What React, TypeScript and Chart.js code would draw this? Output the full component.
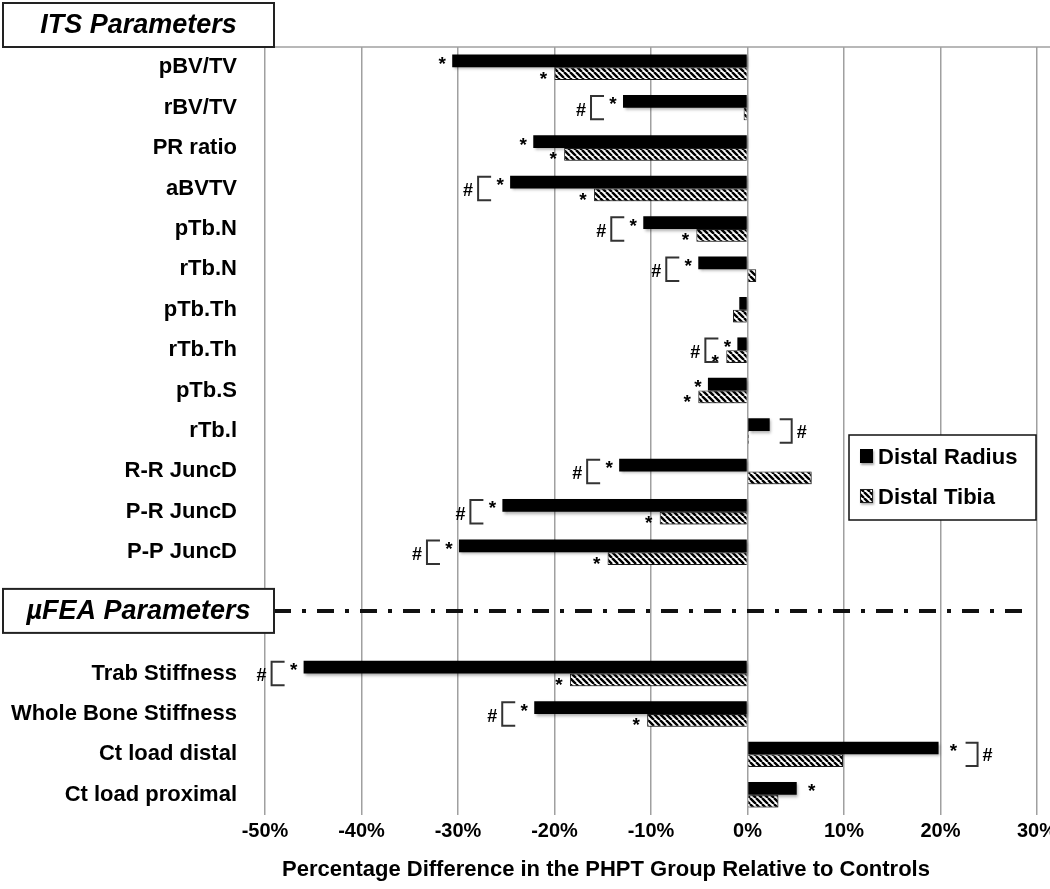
import React, { useEffect, useRef } from "react";
import { Chart, registerables } from "chart.js";
Chart.register(...registerables);

const categories = [
  "pBV/TV", "rBV/TV", "PR ratio", "aBVTV", "pTb.N", "rTb.N", "pTb.Th", "rTb.Th", "pTb.S", "rTb.l",
  "R-R JuncD", "P-R JuncD", "P-P JuncD", "", "",
  "Trab Stiffness", "Whole Bone Stiffness", "Ct load distal", "Ct load proximal",
];
const distalRadius = [-30.6, -12.9, -22.2, -24.6, -10.8, -5.1, -0.85, -1.05, -4.1, 2.3, -13.3, -25.4, -29.9, null, null, -46.0, -22.1, 19.8, 5.1];
const distalTibia = [-20.0, -0.4, -19.0, -15.9, -5.3, 0.9, -1.5, -2.2, -5.1, 0.15, 6.65, -9.1, -14.5, null, null, -18.4, -10.4, 9.9, 3.2];
const radiusStar = [1, 1, 1, 1, 1, 1, 0, 1, 1, 0, 1, 1, 1, 0, 0, 1, 1, 1, 1];
const tibiaStar = [1, 0, 1, 1, 1, 0, 0, 1, 1, 0, 0, 1, 1, 0, 0, 1, 1, 0, 0];
const bracketSide = ["", "L", "", "L", "L", "L", "", "L", "", "R", "L", "L", "L", "", "", "L", "L", "R", ""];
const seriesNames = ["Distal Radius", "Distal Tibia"];
const sectionTitles = ["ITS Parameters", "\u00B5FEA Parameters"];
const xMin = -50;
const xMax = 30;
const xStep = 10;
const xTitle = "Percentage Difference in the PHPT Group Relative to Controls";

const FONT = "'Liberation Sans', Arial, sans-serif";

function makeHatch(): CanvasPattern | string {
  const s = 6;
  const c = document.createElement("canvas");
  c.width = s;
  c.height = s;
  const g = c.getContext("2d");
  if (!g) return "#888";
  g.fillStyle = "#fff";
  g.fillRect(0, 0, s, s);
  g.strokeStyle = "#000";
  g.lineWidth = 2.4;
  g.beginPath();
  for (const k of [-s, 0, s]) {
    g.moveTo(k, 0);
    g.lineTo(k + s, s);
  }
  g.stroke();
  return g.createPattern(c, "repeat") ?? "#888";
}

export default function App() {
  const ref = useRef<HTMLCanvasElement>(null);
  useEffect(() => {
    document.body.style.margin = "0";
    const hatch = makeHatch();

    const drawStar = (ctx: CanvasRenderingContext2D, x: number, y: number) => {
      ctx.font = `bold 19px ${FONT}`;
      ctx.textAlign = "center";
      ctx.textBaseline = "alphabetic";
      ctx.fillStyle = "#000";
      ctx.fillText("*", x, y + 11);
    };
    const drawHash = (ctx: CanvasRenderingContext2D, x: number, y: number) => {
      ctx.font = `bold 18px ${FONT}`;
      ctx.textAlign = "center";
      ctx.textBaseline = "middle";
      ctx.fillStyle = "#000";
      ctx.fillText("#", x, y);
    };

    const plugin = {
      id: "decor",
      beforeDatasetsDraw(chart: any) {
        const ctx = chart.ctx;
        const area = chart.chartArea;
        ctx.save();
        ctx.strokeStyle = "#a0a0a0";
        ctx.lineWidth = 1.5;
        ctx.beginPath();
        ctx.moveTo(area.left + 9, area.top);
        ctx.lineTo(chart.width, area.top);
        ctx.stroke();
        ctx.restore();
        ctx.save();
        ctx.shadowColor = "rgba(0,0,0,0.35)";
        ctx.shadowBlur = 3;
        ctx.shadowOffsetX = 1.5;
        ctx.shadowOffsetY = 2;
      },
      afterDatasetsDraw(chart: any) {
        const ctx: CanvasRenderingContext2D = chart.ctx;
        ctx.restore();
        const mR = chart.getDatasetMeta(0);
        const mT = chart.getDatasetMeta(1);
        ctx.save();
        categories.forEach((_, i) => {
          const rv = distalRadius[i];
          const tv = distalTibia[i];
          if (rv == null || tv == null) return;
          const r = mR.data[i];
          const t = mT.data[i];
          const starRX = rv < 0 ? r.x - 10 : r.x + 15;
          if (radiusStar[i]) drawStar(ctx, starRX, r.y - 2);
          const starTX = tv < 0 ? t.x - 11 : t.x + 12;
          if (tibiaStar[i]) drawStar(ctx, starTX, t.y);
          const top = r.y - r.height / 2 + 1;
          const bottom = t.y + t.height / 2 - 1;
          ctx.strokeStyle = "#333";
          ctx.lineWidth = 2;
          if (bracketSide[i] === "L") {
            const right = radiusStar[i] ? starRX - 9 : r.x - 10;
            const left = right - 13;
            ctx.beginPath();
            ctx.moveTo(right, top);
            ctx.lineTo(left, top);
            ctx.lineTo(left, bottom);
            ctx.lineTo(right, bottom);
            ctx.stroke();
            drawHash(ctx, left - 10, (top + bottom) / 2 + 3);
          } else if (bracketSide[i] === "R") {
            const left = radiusStar[i] ? starRX + 12 : r.x + 10;
            const right = left + 12;
            ctx.beginPath();
            ctx.moveTo(left, top);
            ctx.lineTo(right, top);
            ctx.lineTo(right, bottom);
            ctx.lineTo(left, bottom);
            ctx.stroke();
            drawHash(ctx, right + 10, (top + bottom) / 2 + 2);
          }
        });
        ctx.restore();
      },
      afterDraw(chart: any) {
        const ctx: CanvasRenderingContext2D = chart.ctx;
        const area = chart.chartArea;
        const yS = chart.scales.y;
        ctx.save();
        const boxL = 3;
        const boxR = area.left + 9;
        const drawBox = (top: number, bottom: number, text: string) => {
          ctx.fillStyle = "#fff";
          ctx.fillRect(boxL, top, boxR - boxL, bottom - top);
          ctx.strokeStyle = "#222";
          ctx.lineWidth = 2;
          ctx.strokeRect(boxL, top, boxR - boxL, bottom - top);
          ctx.fillStyle = "#000";
          ctx.font = `italic bold 27px ${FONT}`;
          ctx.textAlign = "center";
          ctx.textBaseline = "middle";
          ctx.fillText(text, (boxL + boxR) / 2, (top + bottom) / 2 + 1);
        };
        drawBox(3, area.top, sectionTitles[0]);
        const sepY = (yS.getPixelForValue(13) + yS.getPixelForValue(14)) / 2 - 2;
        ctx.strokeStyle = "#111";
        ctx.lineWidth = 4;
        ctx.setLineDash([17, 11, 4, 11]);
        ctx.beginPath();
        ctx.moveTo(boxR, sepY);
        ctx.lineTo(area.right - 6, sepY);
        ctx.stroke();
        ctx.setLineDash([]);
        drawBox(sepY - 22, sepY + 22, sectionTitles[1]);

        const lr = area.right - 1;
        const ll = lr - 187;
        const lt = yS.getPixelForValue(9) + 4;
        const lh = 85;
        ctx.fillStyle = "#fff";
        ctx.fillRect(ll, lt, lr - ll, lh);
        ctx.strokeStyle = "#111";
        ctx.lineWidth = 1.5;
        ctx.strokeRect(ll, lt, lr - ll, lh);
        seriesNames.forEach((name, i) => {
          const sy = lt + 14 + i * 40;
          ctx.save();
          ctx.shadowColor = "rgba(0,0,0,0.35)";
          ctx.shadowBlur = 2;
          ctx.shadowOffsetX = 1;
          ctx.shadowOffsetY = 1.5;
          ctx.fillStyle = i === 0 ? "#000" : (hatch as any);
          ctx.fillRect(ll + 11, sy, 13, 14);
          ctx.restore();
          if (i === 1) {
            ctx.strokeStyle = "#222";
            ctx.lineWidth = 1;
            ctx.strokeRect(ll + 11.5, sy + 0.5, 12, 13);
          }
          ctx.fillStyle = "#000";
          ctx.font = `bold 22px ${FONT}`;
          ctx.textAlign = "left";
          ctx.textBaseline = "middle";
          ctx.fillText(name, ll + 29, sy + 9);
        });

        ctx.fillStyle = "#000";
        ctx.font = `bold 22px ${FONT}`;
        ctx.textAlign = "center";
        ctx.textBaseline = "middle";
        ctx.fillText(xTitle, (area.left + area.right) / 2 - 45, chart.height - 19);
        ctx.restore();
      },
    };

    const chart = new Chart(ref.current as HTMLCanvasElement, {
      type: "bar",
      data: {
        labels: categories,
        datasets: [
          {
            label: seriesNames[0],
            data: distalRadius as any,
            backgroundColor: "#000",
            borderColor: "#000",
            borderWidth: 0,
            categoryPercentage: 0.63,
            barPercentage: 1,
          },
          {
            label: seriesNames[1],
            data: distalTibia as any,
            backgroundColor: hatch as any,
            borderColor: "#222",
            borderWidth: 1,
            categoryPercentage: 0.63,
            barPercentage: 1,
          },
        ],
      },
      options: {
        indexAxis: "y",
        responsive: false,
        animation: false,
        layout: { padding: { top: 47, right: 13, left: 0, bottom: 0 } },
        plugins: { legend: { display: false }, tooltip: { enabled: false } },
        scales: {
          x: {
            min: xMin,
            max: xMax,
            ticks: {
              stepSize: xStep,
              callback: (v: any) => `${v}%`,
              font: { family: FONT, size: 20, weight: "bold" },
              color: "#000",
              padding: 4,
            },
            grid: { color: "#a0a0a0", lineWidth: 1.5, drawTicks: false },
            border: { display: false },
            afterFit: (s: any) => {
              s.height = 74;
              s.paddingLeft = 0;
              s.paddingRight = 0;
            },
          },
          y: {
            ticks: {
              autoSkip: false,
              font: { family: FONT, size: 22, weight: "bold" },
              color: "#000",
              padding: 20,
            },
            grid: { display: false },
            border: { display: false },
            afterFit: (s: any) => {
              s.width = 265;
              s.paddingTop = 0;
              s.paddingBottom = 0;
            },
          },
        },
      } as any,
      plugins: [plugin],
    });
    return () => chart.destroy();
  }, []);
  return (
    <div style={{ position: "absolute", left: 0, top: 0, width: 1050, height: 889, background: "#fff" }}>
      <canvas ref={ref} width={1050} height={889} style={{ display: "block" }} />
    </div>
  );
}
